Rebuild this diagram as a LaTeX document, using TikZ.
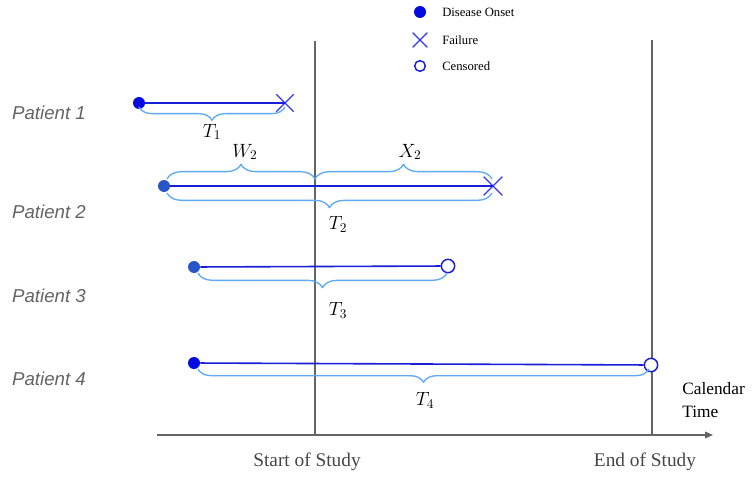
\documentclass[tikz,border=0pt]{standalone}
\usepackage{fontspec}
\setmainfont{Liberation Serif}
\setsansfont{Liberation Sans}
\usetikzlibrary{shapes.misc,decorations.pathreplacing,arrows.meta}

\definecolor{onsetblue}{RGB}{5,10,225}
\definecolor{onsetdim}{RGB}{40,85,200}
\definecolor{pathblue}{RGB}{25,30,215}
\definecolor{markblue}{RGB}{50,55,240}
\definecolor{bracecol}{RGB}{95,170,240}
\definecolor{axisgray}{RGB}{100,100,100}

\tikzset{
    onset/.style={circle,fill=#1,inner sep=0pt,minimum size=9pt},
    onset/.default=onsetblue,
    failmark/.style={cross out,draw=markblue,line width=1pt,inner sep=0pt,minimum size=#1},
    failmark/.default=11pt,
    censmark/.style={circle,draw=pathblue,fill=white,line width=1.1pt,inner sep=0pt,minimum size=#1},
    censmark/.default=9pt,
    follow/.style={pathblue,line width=1.2pt},
    spanbrace/.style={bracecol,line width=1pt,decorate,decoration={brace,amplitude=#1}},
    patient/.style={font=\sffamily\itshape\fontsize{14}{17}\selectfont,text=axisgray},
    legendtext/.style={font=\fontsize{9.5}{11}\selectfont,anchor=west,inner sep=0pt},
    studytext/.style={font=\fontsize{14.5}{17}\selectfont,text=axisgray!70!black},
    spanlabel/.style={font=\fontsize{14}{17}\selectfont},
    studyline/.style={axisgray,line width=1.1pt}
}

\begin{document}
\begin{tikzpicture}[x=0.75pt,y=-0.75pt,line join=round]
    \useasboundingbox (0,0) rectangle (755,477);

    % calendar axis and study window
    \coordinate (s0) at (315,41);
    \coordinate (s1) at (315,435);
    \coordinate (e0) at (652,40);
    \coordinate (e1) at (652,435);
    \coordinate (a0) at (157,435);
    \coordinate (a1) at (713,435);
    \draw[studyline] (s0) -- (s1);
    \draw[studyline] (e0) -- (e1);
    \draw[studyline,-{Triangle[length=6pt,width=5pt]}] (a0) -- (a1);
    \node[studytext] (start) at (307,462) {Start of Study};
    \node[studytext] (end) at (645,462) {End of Study};
    \node[font=\fontsize{13}{17}\selectfont,align=left,anchor=west,inner sep=0pt] (cal) at (682,400) {Calendar\\Time};

    % legend
    \node[onset] (lon) at (420,12) {};
    \node[legendtext] (lontext) at (442,12) {Disease Onset};
    \node[failmark=10pt] (lfail) at (420,40) {};
    \node[legendtext] (lfailtext) at (442,40) {Failure};
    \node[censmark=8pt] (lcens) at (420,66) {};
    \node[legendtext] (lcenstext) at (442,66) {Censored};

    % patient 1
    \node[patient] (pt1) at (49,113) {Patient 1};
    \node[onset] (p1on) at (139,103) {};
    \node[failmark=12pt] (p1end) at (285,103) {};
    \draw[follow] (p1on) -- (p1end.center);
    \coordinate (b1a) at (139,107);
    \coordinate (b1b) at (285,107);
    \draw[spanbrace=10pt] (b1b) -- (b1a);
    \node[spanlabel] (t1) at (212,132) {$T_1$};

    % patient 2
    \node[patient] (pt2) at (49,212) {Patient 2};
    \node[onset=onsetdim] (p2on) at (164,186) {};
    \node[failmark=13pt] (p2end) at (493,186) {};
    \draw[follow] (p2on) -- (p2end.center);
    \coordinate (b2a) at (167,179);
    \coordinate (b2m) at (315,179);
    \coordinate (b2b) at (492,179);
    \draw[spanbrace=11pt] (b2a) -- (b2m);
    \draw[spanbrace=11pt] (b2m) -- (b2b);
    \node[spanlabel] (w2) at (245,152) {$W_2$};
    \node[spanlabel] (x2) at (410,152) {$X_2$};
    \coordinate (b2c) at (167,193);
    \coordinate (b2d) at (492,193);
    \draw[spanbrace=11pt] (b2d) -- (b2c);
    \node[spanlabel] (t2) at (338,224) {$T_2$};

    % patient 3
    \node[patient] (pt3) at (49,296) {Patient 3};
    \node[onset=onsetdim] (p3on) at (194,267) {};
    \node[censmark=10pt] (p3end) at (448,266) {};
    \draw[follow] (p3on) -- (p3end);
    \coordinate (b3a) at (198,273);
    \coordinate (b3b) at (447,273);
    \draw[spanbrace=11pt] (b3b) -- (b3a);
    \node[spanlabel] (t3) at (338,310) {$T_3$};

    % patient 4
    \node[patient] (pt4) at (49,379) {Patient 4};
    \node[onset] (p4on) at (194,363) {};
    \node[censmark=10pt] (p4end) at (651,365) {};
    \draw[follow] (p4on) -- (p4end);
    \coordinate (b4a) at (198,369);
    \coordinate (b4b) at (649,369);
    \draw[spanbrace=10pt] (b4b) -- (b4a);
    \node[spanlabel] (t4) at (425,400) {$T_4$};
\end{tikzpicture}
\end{document}
